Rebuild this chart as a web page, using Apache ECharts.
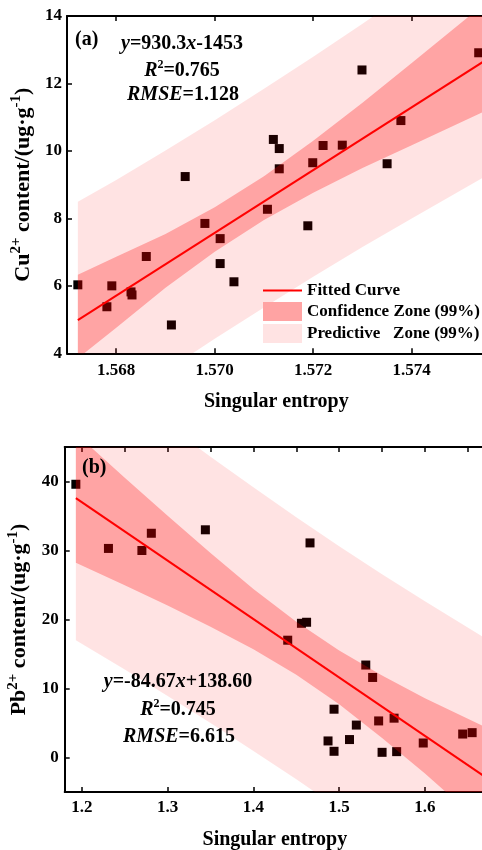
<!DOCTYPE html>
<html>
<head>
<meta charset="utf-8">
<script src="https://cdn.jsdelivr.net/npm/echarts@6/dist/echarts.min.js"></script>
<style>
  html, body { margin: 0; padding: 0; background: #fff; }
  #chart { width: 482px; height: 850px; }
</style>
</head>
<body>
<div id="chart"></div>
<script>
// ---- (a) Cu2+ content vs singular entropy ----
const cuEntropy = [1.56722, 1.56781, 1.56791, 1.56830, 1.56832, 1.56861, 1.56912, 1.56940, 1.56980, 1.57011, 1.57011, 1.57039,
                   1.57107, 1.57119, 1.57131, 1.57131, 1.57189, 1.57199, 1.57220, 1.57259, 1.57299, 1.57350, 1.57378, 1.57536];
const cuContent = [6.03, 5.38, 6.00, 5.82, 5.73, 6.87, 4.84, 9.24, 7.85, 7.40, 6.66, 6.12,
                   8.27, 10.34, 10.07, 9.47, 7.78, 9.65, 10.16, 10.17, 12.40, 9.62, 10.90, 12.91];
const cuFit = [930.3, -1453];            // slope, intercept
const cuFitRange = [1.56722, 1.5755];
const cuBandX     = [1.56722, 1.5680, 1.5690, 1.5700, 1.5710, 1.5720, 1.5730, 1.5740, 1.5755];
const cuConfLower = [3.85, 4.76, 5.94, 7.01, 7.95, 8.76, 9.49, 10.17, 11.19];
const cuConfUpper = [6.33, 6.86, 7.54, 8.33, 9.25, 10.30, 11.43, 12.61, 14.39];
const cuPredLower = [1.69, 2.48, 3.47, 4.43, 5.36, 6.27, 7.15, 8.00, 9.25];
const cuPredUpper = [8.49, 9.14, 10.01, 10.91, 11.84, 12.79, 13.77, 14.78, 16.33];
const cuXTicks = [1.568, 1.570, 1.572, 1.574];

// ---- (b) Pb2+ content vs singular entropy ----
const pbEntropy = [1.193, 1.231, 1.270, 1.281, 1.344, 1.440, 1.456, 1.462, 1.466, 1.487, 1.494, 1.494,
                   1.512, 1.520, 1.531, 1.539, 1.546, 1.550, 1.564, 1.567, 1.598, 1.644, 1.655];
const pbContent = [39.6, 30.3, 30.0, 32.5, 33.0, 17.0, 19.45, 19.6, 31.1, 2.4, 7.0, 0.9,
                   2.6, 4.7, 13.4, 11.6, 5.3, 0.75, 5.7, 0.85, 2.1, 3.4, 3.6];
const pbFit = [-84.67, 138.60];
const pbFitRange = [1.193, 1.67];
const pbBandX     = [1.193, 1.25, 1.30, 1.35, 1.40, 1.45, 1.50, 1.55, 1.60, 1.67];
const pbConfLower = [28.23, 24.97, 22.04, 18.95, 15.70, 11.98, 7.71, 2.83, -2.33, -10.02];
const pbConfUpper = [46.95, 40.55, 35.02, 29.65, 24.42, 19.68, 15.49, 11.89, 8.59, 4.42];
const pbPredLower = [16.99, 12.76, 8.93, 5.00, 0.96, -3.17, -7.40, -11.84, -16.37, -22.90];
const pbPredUpper = [58.19, 52.76, 48.13, 43.60, 39.16, 34.83, 30.60, 26.56, 22.63, 17.30];
const pbXLabels = [1.2, 1.3, 1.4, 1.5, 1.6];
const pbXTopTicks = [1.2, 1.25, 1.3, 1.35, 1.4, 1.45, 1.5, 1.55, 1.6, 1.65];
const pbYTicks = [0, 10, 20, 30, 40];

const FONT = 'Liberation Serif';
const PRED_FILL = 'rgba(255,0,0,0.11)';
const CONF_FILL = 'rgba(255,0,0,0.28)';

const chart = echarts.init(document.getElementById('chart'));

const pairs = (xs, ys) => xs.map((x, i) => [x, ys[i]]);
const fitLine = (range, c) => range.map(x => [x, c[0] * x + c[1]]);

// Filled band between a lower and an upper boundary, drawn through the axis scales
function bandSeries(name, xs, lower, upper, fill, xi, yi) {
  return {
    type: 'custom', name, xAxisIndex: xi, yAxisIndex: yi, z: 2, silent: true, clip: true,
    data: [[xs[0], lower[0]]],
    encode: { x: 0, y: 1 },
    itemStyle: { color: fill },
    renderItem: (params, api) => {
      const top = xs.map((x, i) => api.coord([x, upper[i]]));
      const bottom = xs.map((x, i) => api.coord([x, lower[i]])).reverse();
      return { type: 'polygon', shape: { points: top.concat(bottom) }, style: { fill } };
    }
  };
}

function scatter(xs, ys, xi, yi) {
  return {
    type: 'scatter', name: 'samples', xAxisIndex: xi, yAxisIndex: yi, z: 1,
    symbol: 'rect', symbolSize: 9, itemStyle: { color: '#000', opacity: 1 },
    data: pairs(xs, ys), silent: true
  };
}

function fitted(range, coef, xi, yi) {
  return {
    type: 'line', name: 'Fitted Curve', xAxisIndex: xi, yAxisIndex: yi, z: 3,
    symbol: 'none', lineStyle: { color: '#ff0000', width: 2 },
    itemStyle: { color: '#ff0000' },
    data: fitLine(range, coef), silent: true
  };
}

const labelFont = { fontFamily: FONT, fontWeight: 'bold', fontSize: 17, color: '#000' };
const axisLine = { show: true, onZero: false, lineStyle: { color: '#000', width: 2 } };
const tickStyle = { color: '#000', width: 1.5 };

function yName(el) {
  return '{m|' + el + '}{s|2+}{m| content/(ug·g}{s|-1}{m|)}';
}
const yNameStyle = {
  rich: {
    m: { fontFamily: FONT, fontWeight: 'bold', fontSize: 22, lineHeight: 28, color: '#000' },
    s: { fontFamily: FONT, fontWeight: 'bold', fontSize: 15, lineHeight: 15, verticalAlign: 'top', color: '#000' }
  }
};
const xNameStyle = { fontFamily: FONT, fontWeight: 'bold', fontSize: 20, color: '#000' };

const rich = {
  n: { fontFamily: FONT, fontWeight: 'bold', fontSize: 20, lineHeight: 24, color: '#000' },
  i: { fontFamily: FONT, fontWeight: 'bold', fontStyle: 'italic', fontSize: 20, lineHeight: 24, color: '#000' },
  s: { fontFamily: FONT, fontWeight: 'bold', fontSize: 12, lineHeight: 12, verticalAlign: 'top', color: '#000' }
};
function note(x, y, text, align) {
  return {
    type: 'text', x, y, z: 10, silent: true,
    style: { text, rich, align: align || 'center', verticalAlign: 'middle',
             fontFamily: FONT, fontWeight: 'bold', fontSize: 20, fill: '#000' }
  };
}

const option = {
  animation: false,
  backgroundColor: '#fff',
  grid: [
    { left: 67, top: 16, width: 418.6, height: 337.3, outerBoundsMode: 'none', containLabel: false },
    { left: 64.7, top: 447, width: 420.3, height: 345, outerBoundsMode: 'none', containLabel: false }
  ],
  xAxis: [
    { gridIndex: 0, type: 'value', position: 'bottom', min: 1.567, max: 1.5755,
      axisLine, splitLine: { show: false },
      axisTick: { show: true, inside: true, length: 5, customValues: cuXTicks, lineStyle: tickStyle },
      axisLabel: { ...labelFont, margin: 9, customValues: cuXTicks, formatter: v => v.toFixed(3) },
      name: 'Singular entropy', nameLocation: 'middle', nameGap: 39, nameTextStyle: xNameStyle },
    { gridIndex: 0, type: 'value', position: 'top', min: 1.567, max: 1.5755,
      axisLine, splitLine: { show: false },
      axisTick: { show: true, inside: true, length: 5, customValues: cuXTicks, lineStyle: tickStyle },
      axisLabel: { show: false } },
    { gridIndex: 1, type: 'value', position: 'bottom', min: 1.18, max: 1.67,
      axisLine, splitLine: { show: false },
      axisTick: { show: true, inside: true, length: 5, customValues: pbXLabels, lineStyle: tickStyle },
      axisLabel: { ...labelFont, margin: 7, customValues: pbXLabels, formatter: v => v.toFixed(1) },
      name: 'Singular entropy', nameLocation: 'middle', nameGap: 38, nameTextStyle: xNameStyle },
    { gridIndex: 1, type: 'value', position: 'top', min: 1.18, max: 1.67,
      axisLine, splitLine: { show: false },
      axisTick: { show: true, inside: true, length: 5, customValues: pbXTopTicks, lineStyle: tickStyle },
      axisLabel: { show: false } }
  ],
  yAxis: [
    { gridIndex: 0, type: 'value', position: 'left', min: 4, max: 14, interval: 2,
      axisLine, splitLine: { show: false },
      axisTick: { show: true, inside: true, length: 5, lineStyle: tickStyle },
      axisLabel: { ...labelFont, margin: 5 },
      name: yName('Cu'), nameLocation: 'middle', nameRotate: 90, nameGap: 18, nameTextStyle: yNameStyle },
    { gridIndex: 1, type: 'value', position: 'left', min: -5, max: 45,
      axisLine, splitLine: { show: false },
      axisTick: { show: true, inside: true, length: 5, customValues: pbYTicks, lineStyle: tickStyle },
      axisLabel: { ...labelFont, margin: 6, customValues: pbYTicks },
      name: yName('Pb'), nameLocation: 'middle', nameRotate: 90, nameGap: 16, nameTextStyle: yNameStyle }
  ],
  legend: {
    show: true, orient: 'vertical', left: 262, top: 282, padding: 0,
    itemWidth: 39, itemHeight: 19, itemGap: 3, selectedMode: false,
    textStyle: { fontFamily: FONT, fontWeight: 'bold', fontSize: 17, color: '#000' },
    data: [
      { name: 'Fitted Curve', itemStyle: { opacity: 0 } },
      { name: 'Confidence Zone (99%)', icon: 'rect', itemStyle: { color: '#ffa3a3', borderWidth: 0 } },
      { name: 'Predictive   Zone (99%)', icon: 'rect', itemStyle: { color: '#ffe3e3', borderWidth: 0 } }
    ]
  },
  series: [
    scatter(cuEntropy, cuContent, 0, 0),
    bandSeries('Predictive   Zone (99%)', cuBandX, cuPredLower, cuPredUpper, PRED_FILL, 0, 0),
    bandSeries('Confidence Zone (99%)', cuBandX, cuConfLower, cuConfUpper, CONF_FILL, 0, 0),
    fitted(cuFitRange, cuFit, 0, 0),

    scatter(pbEntropy, pbContent, 2, 1),
    bandSeries('Predictive   Zone (99%)', pbBandX, pbPredLower, pbPredUpper, PRED_FILL, 2, 1),
    bandSeries('Confidence Zone (99%)', pbBandX, pbConfLower, pbConfUpper, CONF_FILL, 2, 1),
    fitted(pbFitRange, pbFit, 2, 1)
  ],
  graphic: [
    note(75, 40, '{n|(a)}', 'left'),
    note(182, 44, '{i|y}{n|=930.3}{i|x}{n|-1453}'),
    note(182, 71, '{i|R}{s|2}{n|=0.765}'),
    note(183, 95, '{i|RMSE}{n|=1.128}'),
    note(82, 468, '{n|(b)}', 'left'),
    note(178, 682, '{i|y}{n|=-84.67}{i|x}{n|+138.60}'),
    note(178, 710, '{i|R}{s|2}{n|=0.745}'),
    note(179, 737, '{i|RMSE}{n|=6.615}')
  ]
};

chart.setOption(option);
</script>
</body>
</html>
